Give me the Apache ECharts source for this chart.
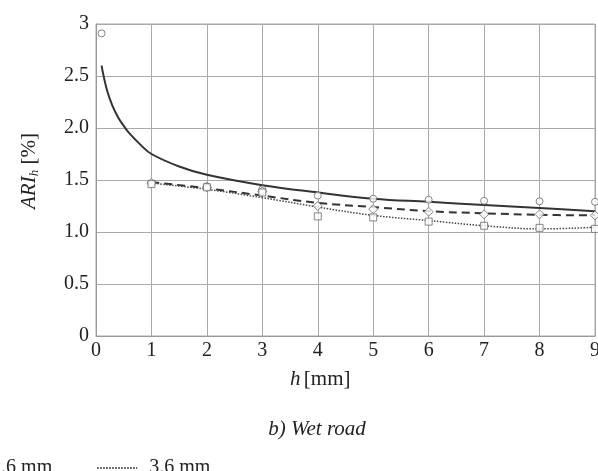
<!DOCTYPE html>
<html>
<head>
<meta charset="utf-8">
<script src="https://cdn.jsdelivr.net/npm/echarts@6/dist/echarts.min.js"></script>
<style>html,body{margin:0;padding:0;background:#fff}#c{width:598px;height:471px}</style>
</head>
<body>
<div id="c"></div>
<script>
// Fitted curves
const curve16 = [[0.1,2.60],[0.2,2.36],[0.3,2.21],[0.4,2.10],[0.5,2.02],[0.6,1.95],[0.8,1.84],[1,1.75],[1.5,1.63],[2,1.55],[3,1.45],[4,1.38],[5,1.32],[6,1.29],[7,1.26],[8,1.23],[9,1.20]];
const curve26 = [[1,1.48],[2,1.42],[3,1.35],[4,1.28],[5,1.24],[6,1.20],[7,1.18],[8,1.165],[9,1.16]];
const curve36 = [[1,1.47],[2,1.41],[3,1.33],[4,1.24],[5,1.16],[6,1.11],[7,1.06],[8,1.03],[9,1.045]];
// Measured points
const pts16 = [[0.1,2.91],[1,1.47],[2,1.44],[3,1.41],[4,1.35],[5,1.32],[6,1.31],[7,1.30],[8,1.295],[9,1.29]];
const pts26 = [[1,1.47],[2,1.43],[3,1.39],[4,1.25],[5,1.22],[6,1.195],[7,1.17],[8,1.17],[9,1.16]];
const pts36 = [[1,1.46],[2,1.43],[3,1.38],[4,1.15],[5,1.14],[6,1.10],[7,1.06],[8,1.04],[9,1.03]];
const seriesNames = ['1.6 mm','2.6 mm','3.6 mm'];
const xTicks = [0,1,2,3,4,5,6,7,8,9];
const yTickLabels = {0:'0',0.5:'0.5',1:'1.0',1.5:'1.5',2:'2.0',2.5:'2.5',3:'3'};

const FONT = 'Liberation Serif';
const gridColor = '#a9a9a9';
const chart = echarts.init(document.getElementById('c'));
const markerStyle = {color:'#fff', borderColor:'#666', borderWidth:1};
chart.setOption({
  animation:false,
  backgroundColor:'#fff',
  textStyle:{fontFamily:FONT},
  title:{
    text:'b) Wet road', left:312, top:414, textAlign:'center',
    textStyle:{fontFamily:FONT, fontStyle:'italic', fontWeight:'normal', fontSize:21, color:'#222'}
  },
  legend:{
    data:seriesNames, left:-225, top:453, itemWidth:40, itemHeight:14, itemGap:44,
    itemStyle:{color:'transparent', borderWidth:0, opacity:0},
    textStyle:{fontFamily:FONT, fontSize:20, color:'#222', padding:[0,0,0,7]}
  },
  grid:{left:96, right:3, top:24, bottom:135, show:true, borderColor:gridColor, borderWidth:1, containLabel:false, outerBoundsMode:'none'},
  xAxis:{
    type:'value', min:0, max:9, interval:1,
    axisLine:{show:true, lineStyle:{color:'#999'}}, axisTick:{show:false},
    axisLabel:{fontFamily:FONT, fontSize:20, color:'#222', margin:5,
      formatter:v=>xTicks.includes(v)?String(v):''},
    splitLine:{show:true, lineStyle:{color:gridColor, width:1}}
  },
  yAxis:{
    type:'value', min:0, max:3, interval:0.5,
    axisLine:{show:true, lineStyle:{color:'#999'}}, axisTick:{show:false},
    axisLabel:{fontFamily:FONT, fontSize:20, color:'#222', margin:7,
      formatter:v=>yTickLabels[v]!==undefined?yTickLabels[v]:''},
    splitLine:{show:true, lineStyle:{color:gridColor, width:1}}
  },
  graphic:[
    {type:'text', left:290, top:369, style:{
      rich:{i:{fontFamily:FONT, fontStyle:'italic', fontSize:21, fill:'#222'}, n:{fontFamily:FONT, fontSize:21, fill:'#222'}},
      text:'{i|h} {n|[mm]}'}},
    {type:'text', x:18, y:209, rotation:Math.PI/2, style:{
      rich:{i:{fontFamily:FONT, fontStyle:'italic', fontSize:21, fill:'#222'},
            s:{fontFamily:FONT, fontStyle:'italic', fontSize:13, fill:'#222', padding:[10,0,0,0]},
            n:{fontFamily:FONT, fontSize:21, fill:'#222'}},
      text:'{i|ARI}{s|h}{n| [%]}'}}
  ],
  series:[
    {name:'1.6 mm', type:'line', data:curve16, smooth:0.4, symbol:'none', lineStyle:{color:'#333', width:2, type:'solid'}, itemStyle:{color:'#333'}, z:3},
    {name:'2.6 mm', type:'line', data:curve26, smooth:0.4, symbol:'none', lineStyle:{color:'#333', width:2, type:[8,5]}, itemStyle:{color:'#333'}, z:3},
    {name:'3.6 mm', type:'line', data:curve36, smooth:0.4, symbol:'none', lineStyle:{color:'#444', width:1.5, type:[1.5,1.5]}, itemStyle:{color:'#444'}, z:3},
    {name:'p16', type:'scatter', data:pts16, symbol:'circle', symbolSize:7, itemStyle:markerStyle, z:4},
    {name:'p26', type:'scatter', data:pts26, symbol:'diamond', symbolSize:9, itemStyle:markerStyle, z:4},
    {name:'p36', type:'scatter', data:pts36, symbol:'rect', symbolSize:7, itemStyle:markerStyle, z:4}
  ]
});
</script>
</body>
</html>
